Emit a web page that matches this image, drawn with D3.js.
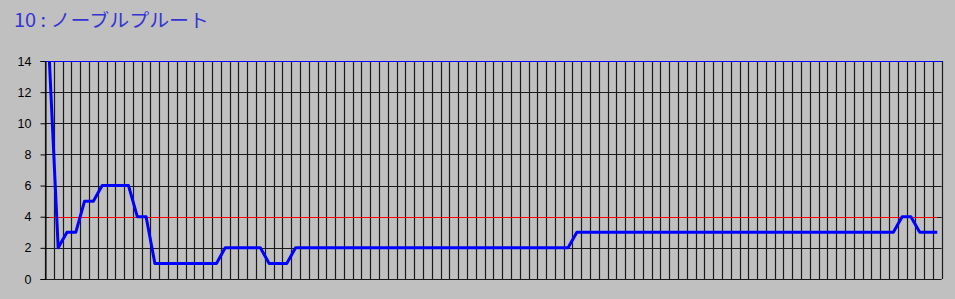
<!DOCTYPE html>
<html>
<head>
<meta charset="utf-8">
<script src="https://cdn.jsdelivr.net/npm/d3@7"></script>
<style>
  html, body { margin: 0; padding: 0; background: #c0c0c0; }
  svg { display: block; }
  .axis text { font-family: "Liberation Sans", Arial, sans-serif; font-size: 12.5px; fill: #000; }
</style>
</head>
<body>
<div id="chart"></div>
<script>
const title = "10 : ノーブルプルート";
const categories = d3.range(1, 103);
const values = [
  14, 2, 3, 3, 5, 5, 6, 6, 6, 6, 4, 4,
  1, 1, 1, 1, 1, 1, 1, 1,
  2, 2, 2, 2, 2,
  1, 1, 1,
  2, 2, 2, 2, 2, 2, 2, 2, 2, 2, 2, 2, 2, 2, 2, 2,
  2, 2, 2, 2, 2, 2, 2, 2, 2, 2, 2, 2, 2, 2, 2, 2,
  3, 3, 3, 3, 3, 3, 3, 3, 3, 3, 3, 3, 3, 3, 3, 3, 3, 3, 3,
  3, 3, 3, 3, 3, 3, 3, 3, 3, 3, 3, 3, 3, 3, 3, 3, 3, 3,
  4, 4, 3, 3, 3
];
const limitValue = 4;
const yTicks = [0, 2, 4, 6, 8, 10, 12, 14];

const width = 955;
const height = 299;
const margin = { top: 61, right: 13.3, bottom: 20, left: 45 };

const svg = d3.select("#chart").append("svg").attr("width", width).attr("height", height);
svg.append("rect").attr("width", width).attr("height", height).attr("fill", "#c0c0c0");

svg
  .append("text")
  .attr("x", 14)
  .attr("y", 27)
  .attr("fill", "#3434d4")
  .attr("textLength", 195)
  .attr("lengthAdjust", "spacingAndGlyphs")
  .style("font-family", '"Noto Sans CJK JP", sans-serif')
  .style("font-size", "18.5px")
  .text(title);

const x = d3
  .scaleBand()
  .domain(categories)
  .range([margin.left, width - margin.right])
  .padding(0);
const xEdge = d3.scaleLinear().domain([0, categories.length]).range(x.range());
const y = d3.scaleLinear().domain([0, 14]).range([height - margin.bottom, margin.top]);
const cx = (d) => x(d) + x.bandwidth() / 2;

// vertical grid at category boundaries
svg
  .append("g")
  .selectAll("line")
  .data(d3.range(0, categories.length + 1))
  .join("line")
  .attr("x1", (d) => Math.round(xEdge(d)) + 0.5)
  .attr("x2", (d) => Math.round(xEdge(d)) + 0.5)
  .attr("y1", y(14))
  .attr("y2", y(0))
  .attr("stroke", "#1a1a1a")
  .attr("stroke-width", 1.2);

// horizontal grid
svg
  .append("g")
  .selectAll("line")
  .data(yTicks.filter((d) => d < 14))
  .join("line")
  .attr("x1", margin.left)
  .attr("x2", width - margin.right)
  .attr("y1", (d) => Math.round(y(d)) + 0.5)
  .attr("y2", (d) => Math.round(y(d)) + 0.5)
  .attr("stroke", "#1a1a1a")
  .attr("stroke-width", 1.2);

// top border
svg
  .append("line")
  .attr("x1", margin.left)
  .attr("x2", Math.round(width - margin.right) + 0.5)
  .attr("y1", Math.round(y(14)) + 0.5)
  .attr("y2", Math.round(y(14)) + 0.5)
  .attr("stroke", "#0000ff");

const yAxis = svg
  .append("g")
  .attr("class", "axis")
  .attr("transform", `translate(${margin.left + 0.5},0)`)
  .call(d3.axisLeft(y).tickValues(yTicks).tickSize(5).tickPadding(9));
yAxis.select(".domain").attr("stroke", "#000");
yAxis.selectAll(".tick line").attr("stroke", "#000");

// limit line
svg
  .append("line")
  .attr("x1", cx(categories[0]))
  .attr("x2", cx(categories[categories.length - 1]))
  .attr("y1", Math.round(y(limitValue)) + 0.5)
  .attr("y2", Math.round(y(limitValue)) + 0.5)
  .attr("stroke", "#ff0000")
  .attr("stroke-width", 1);

const line = d3
  .line()
  .x((d, i) => cx(categories[i]))
  .y((d) => y(d));

svg
  .append("path")
  .datum(values)
  .attr("d", line)
  .attr("fill", "none")
  .attr("stroke", "#0000ff")
  .attr("stroke-width", 3)
  .attr("stroke-linejoin", "round");
</script>
</body>
</html>
